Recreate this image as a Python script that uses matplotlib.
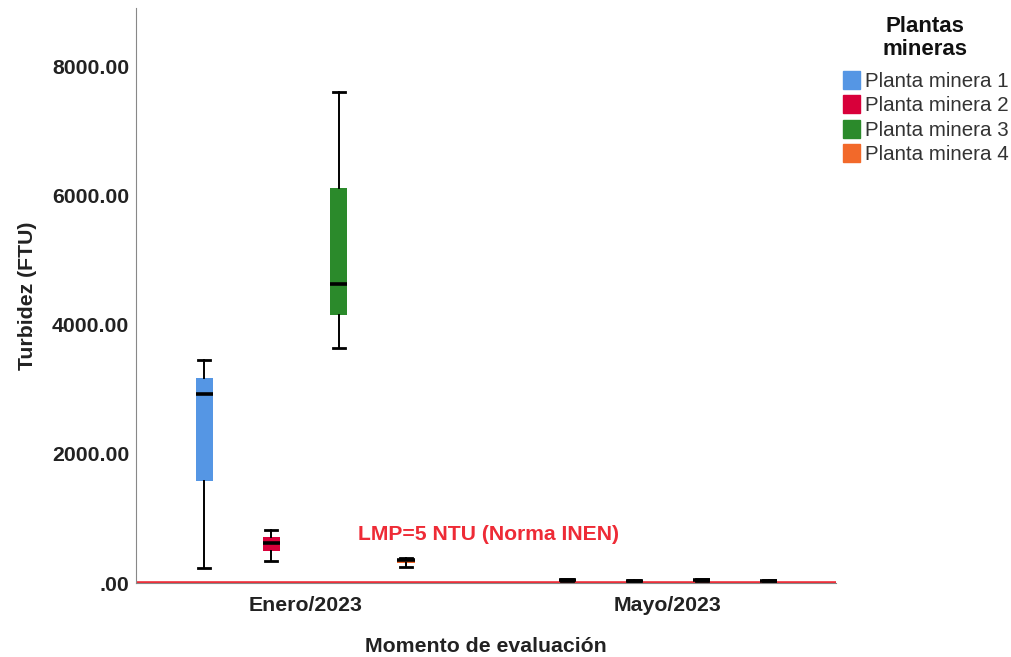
import matplotlib
matplotlib.use("Agg")
import matplotlib.pyplot as plt
from matplotlib.patches import Patch

plt.rcParams['font.family'] = ['Liberation Sans', 'DejaVu Sans']

# Turbidity summaries (FTU) per mining plant and evaluation moment
moments = ["Enero/2023", "Mayo/2023"]
plants = ["Planta minera 1", "Planta minera 2", "Planta minera 3", "Planta minera 4"]
colors = ["#5596E4", "#D8003A", "#2B8A2B", "#F2692A"]

# whisker low, Q1, median, Q3, whisker high
enero_low = [232, 340, 3638, 250]
enero_q1 = [1579, 495, 4149, 310]
enero_med = [2925, 619, 4628, 355]
enero_q3 = [3173, 712, 6114, 372]
enero_high = [3452, 820, 7600, 390]

mayo_low = [28, 22, 30, 22]
mayo_q1 = [38, 28, 38, 28]
mayo_med = [48, 33, 45, 33]
mayo_q3 = [58, 38, 55, 38]
mayo_high = [65, 42, 62, 42]

lmp_value = 5
lmp_label = "LMP=5 NTU (Norma INEN)"
yticks = [0, 2000, 4000, 6000, 8000]
ytick_labels = [".00", "2000.00", "4000.00", "6000.00", "8000.00"]

stats = []
positions = []
box_colors = []
offsets = [-0.278, -0.093, 0.093, 0.278]
groups = [
    (enero_low, enero_q1, enero_med, enero_q3, enero_high),
    (mayo_low, mayo_q1, mayo_med, mayo_q3, mayo_high),
]
for gi, (lo, q1, med, q3, hi) in enumerate(groups):
    for pi in range(len(plants)):
        stats.append(dict(whislo=lo[pi], q1=q1[pi], med=med[pi], q3=q3[pi],
                          whishi=hi[pi], fliers=[], label=plants[pi]))
        positions.append(gi + offsets[pi])
        box_colors.append(colors[pi])

fig = plt.figure(figsize=(10.12, 6.57), dpi=100)
ax = fig.add_axes([0.1344, 0.1126, 0.6917, 0.8754])

bp = ax.bxp(stats, positions=positions, widths=0.047, patch_artist=True,
            showfliers=False,
            boxprops=dict(linewidth=0),
            medianprops=dict(color="black", linewidth=2.6, solid_capstyle="butt"),
            whiskerprops=dict(color="black", linewidth=1.4),
            capprops=dict(color="black", linewidth=2.0),
            capwidths=0.033, manage_ticks=False)
for patch, c in zip(bp["boxes"], box_colors):
    patch.set_facecolor(c)
    patch.set_edgecolor(c)

ax.axhline(lmp_value, color="#EE2B36", linewidth=2.6, zorder=1)
ax.text(0.504, 745, lmp_label, color="#EE2B36", fontsize=15.2,
        fontweight="bold", ha="center", va="center")

ax.set_xlim(-0.466, 1.463)
ax.set_ylim(0, 8900)
ax.set_xticks([0, 1])
ax.set_xticklabels(moments, fontsize=15.3, fontweight="bold", color="#222222")
ax.set_yticks(yticks)
ax.set_yticklabels(ytick_labels, fontsize=15.3, fontweight="bold", color="#222222")
ax.tick_params(axis="both", length=0)
ax.tick_params(axis="y", pad=5)
ax.tick_params(axis="x", pad=9)
for side in ("top", "right"):
    ax.spines[side].set_visible(False)
ax.spines["left"].set_color("#888888")
ax.spines["bottom"].set_color("#888888")

ax.set_xlabel("Momento de evaluación", fontsize=15.3, fontweight="bold",
              color="#222222", labelpad=16)
ax.set_ylabel("Turbidez (FTU)", fontsize=15.3, fontweight="bold",
              color="#222222", labelpad=11)

fig.text(0.914, 1 - 38 / 657, "Plantas\nmineras", ha="center", va="center",
         fontsize=16.0, fontweight="bold", color="#111111", linespacing=1.1)

handles = [Patch(facecolor=c, edgecolor=c) for c in colors]
leg = fig.legend(handles, plants, loc="upper left", bbox_to_anchor=(0.833, 0.892),
                 frameon=False, fontsize=14.8,
                 handlelength=0.85, handleheight=0.95, handletextpad=0.2,
                 labelspacing=0.22, borderpad=0.0, borderaxespad=0.0)
for t in leg.get_texts():
    t.set_color("#333333")

fig.savefig("out.png", dpi=100)
